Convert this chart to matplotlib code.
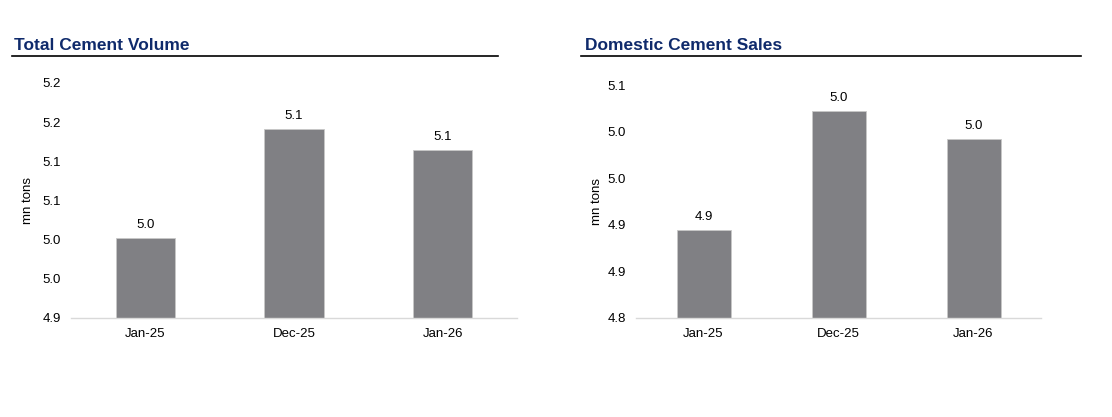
import matplotlib.pyplot as plt
from matplotlib.lines import Line2D

plt.rcParams['font.family'] = ['Liberation Sans', 'DejaVu Sans']

months = ["Jan-25", "Dec-25", "Jan-26"]

# total cement volume (mn tons)
total_vol = [5.002, 5.141, 5.114]
total_ticks = [4.90, 4.95, 5.00, 5.05, 5.10, 5.15, 5.20]

# domestic cement sales (mn tons)
domestic = [4.894, 5.022, 4.992]
dom_ticks = [4.80, 4.85, 4.90, 4.95, 5.00, 5.05]

bar_col = "#808084"
title_col = "#0f2a6b"


def fmt(v):
    # excel style rounding (half up)
    return f"{v + 1e-9:.1f}"


fig = plt.figure(figsize=(11.12, 4.17), dpi=100)
W, H = 1112, 417


def draw(rect, vals, ticks, title, title_x, line_x0, line_x1):
    x0, y0, x1, y1 = rect
    ax = fig.add_axes([x0 / W, 1 - y1 / H, (x1 - x0) / W, (y1 - y0) / H])
    ax.bar(range(len(months)), vals, width=0.4, color=bar_col,
           edgecolor="#c8c8c8", linewidth=0.6, zorder=2)
    for i, v in enumerate(vals):
        ax.annotate(fmt(v), (i, v), xytext=(0, 5), textcoords="offset points",
                    ha="center", va="bottom", fontsize=9.5)
    ax.set_xlim(-0.5, len(months) - 0.5)
    ax.set_ylim(ticks[0], ticks[-1])
    ax.set_yticks(ticks)
    ax.set_yticklabels([fmt(t) for t in ticks])
    ax.set_xticks(range(len(months)))
    ax.set_xticklabels(months)
    ax.tick_params(axis="both", length=0, labelsize=9.5)
    ax.tick_params(axis="y", pad=7.5)
    ax.tick_params(axis="x", pad=7)
    for s in ["top", "right", "left"]:
        ax.spines[s].set_visible(False)
    ax.spines["bottom"].set_color("#d9d9d9")
    ax.spines["bottom"].set_linewidth(1)
    ax.set_ylabel("mn tons", fontsize=9.5)
    ax.yaxis.set_label_coords(-0.082, 0.5)
    fig.text(title_x / W, 1 - 45 / H, title, fontsize=12.5, fontweight="bold",
             color=title_col, va="center", ha="left")
    fig.add_artist(Line2D([line_x0 / W, line_x1 / W], [1 - 56 / H, 1 - 56 / H],
                          color="black", linewidth=1.2))
    return ax


draw((71, 83, 517, 318), total_vol, total_ticks, "Total Cement Volume", 14, 12, 498)
draw((636, 85, 1041, 318), domestic, dom_ticks, "Domestic Cement Sales", 585, 581, 1081)

fig.savefig("out.png", dpi=100)
